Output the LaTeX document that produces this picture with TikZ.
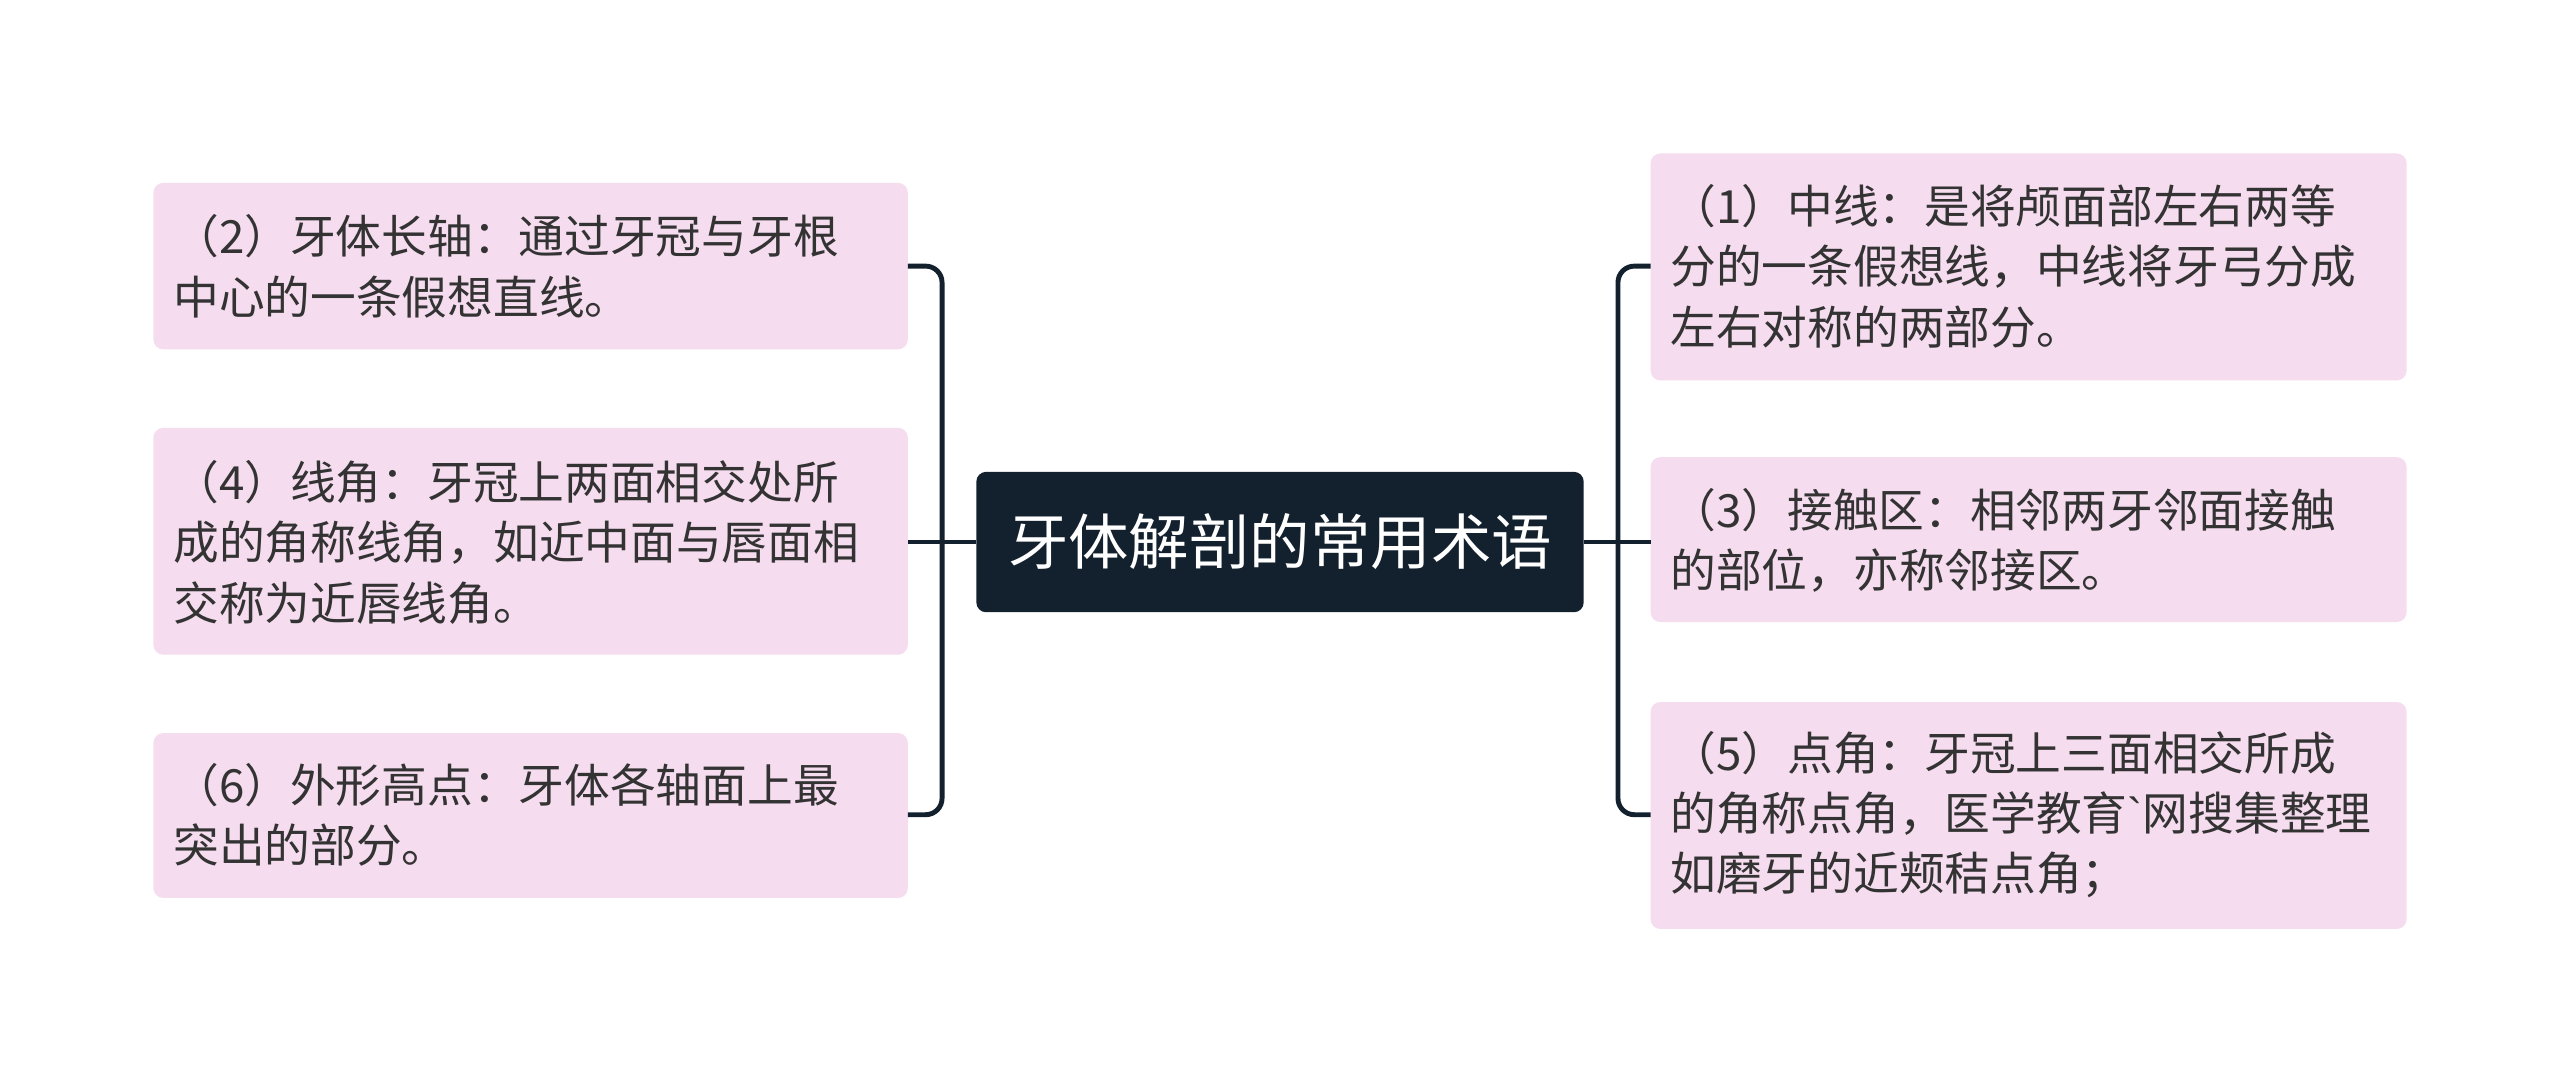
\documentclass[tikz,border=0pt]{standalone}
\usepackage{fontspec}
\setmainfont{Noto Sans CJK SC}
\newfontfamily\plainfont{Liberation Sans}
\begin{document}
\begin{tikzpicture}[x=1pt,y=-1pt,
 box/.style={fill=boxpink,rounded corners=6pt},
 txt/.style={anchor=west,align=left,font=\fontsize{28}{37}\selectfont,text=black!80,inner sep=0pt},
 conn/.style={draw=linec,line width=3pt,rounded corners=10pt}]
\definecolor{boxpink}{HTML}{F5DCEF}
\definecolor{linec}{HTML}{13202E}
\useasboundingbox (0,0) rectangle (1568,663);
\fill[white] (0,0) rectangle (1568,663);
% center
\node[fill=linec,rounded corners=6pt,minimum width=372pt,minimum height=86pt,text=white,font=\fontsize{37}{40}\selectfont] (c) at (784,332) {牙体解剖的常用术语};
% left boxes
\fill[box] (94,112) rectangle (556,214); \node[txt] (l1) at (106,163) {（2）牙体长轴：通过牙冠与牙根\\中心的一条假想直线。};
\fill[box] (94,262) rectangle (556,401); \node[txt] (l2) at (106,332) {（4）线角：牙冠上两面相交处所\\成的角称线角，如近中面与唇面相\\交称为近唇线角。};
\fill[box] (94,449) rectangle (556,550); \node[txt] (l3) at (106,499) {（6）外形高点：牙体各轴面上最\\突出的部分。};
% right boxes
\fill[box] (1011,94) rectangle (1474,233); \node[txt] (r1) at (1023,163) {（1）中线：是将颅面部左右两等\\分的一条假想线，中线将牙弓分成\\左右对称的两部分。};
\fill[box] (1011,280) rectangle (1474,381); \node[txt] (r2) at (1023,331) {（3）接触区：相邻两牙邻面接触\\的部位，亦称邻接区。};
\fill[box] (1011,430) rectangle (1474,569); \node[txt] (r3) at (1023,499) {（5）点角：牙冠上三面相交所成\\的角称点角，医学教育{\plainfont\symbol{96}}网搜集整理\\如磨牙的近颊秸点角；};
% connectors
\coordinate (la) at (556,163); \coordinate (lb) at (556,332); \coordinate (lc) at (556,499);
\coordinate (ra) at (1011,163); \coordinate (rb) at (1011,332); \coordinate (rc) at (1011,499);
\draw[conn] (c.west) -- (lb);
\draw[conn] (la) -- (577,163) -- (577,499) -- (lc);
\draw[conn] (c.east) -- (rb);
\draw[conn] (ra) -- (991,163) -- (991,499) -- (rc);
\end{tikzpicture}
\end{document}
